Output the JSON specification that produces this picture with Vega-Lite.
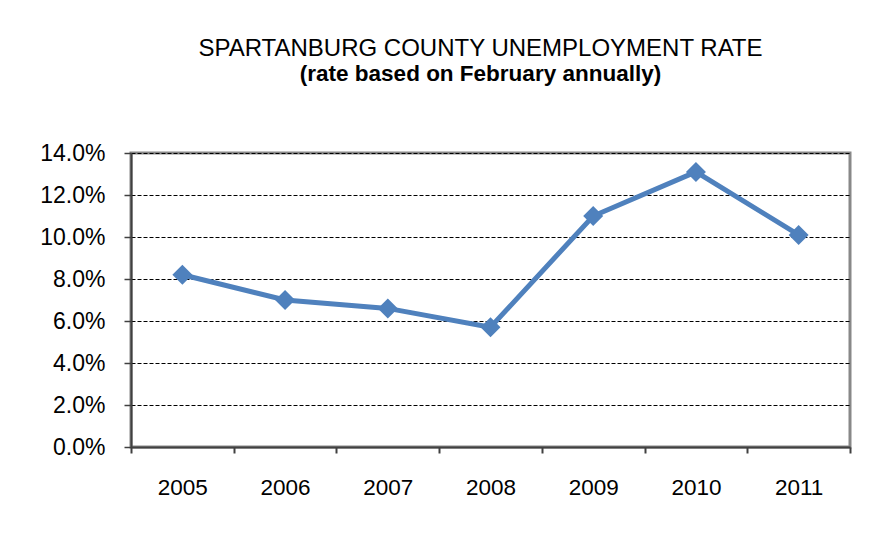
{
  "$schema": "https://vega.github.io/schema/vega-lite/v6.json",
  "width": 719,
  "height": 294,
  "autosize": {"type": "none"},
  "padding": {"left": 131, "top": 153, "right": 22, "bottom": 87},
  "background": "white",
  "title": {
    "text": "SPARTANBURG COUNTY UNEMPLOYMENT RATE",
    "subtitle": "(rate based on February annually)",
    "font": "Liberation Sans",
    "fontSize": 24,
    "fontWeight": "normal",
    "color": "black",
    "subtitleFont": "Liberation Sans",
    "subtitleFontSize": 22.5,
    "subtitleFontWeight": "bold",
    "subtitleColor": "black",
    "subtitlePadding": 2,
    "anchor": "middle",
    "dx": -10,
    "offset": 57
  },
  "data": {
    "values": [
      {"year": "2005", "rate": 0.082},
      {"year": "2006", "rate": 0.070},
      {"year": "2007", "rate": 0.066},
      {"year": "2008", "rate": 0.057},
      {"year": "2009", "rate": 0.110},
      {"year": "2010", "rate": 0.131},
      {"year": "2011", "rate": 0.101}
    ]
  },
  "mark": {
    "type": "line",
    "color": "#4F81BD",
    "strokeWidth": 5,
    "point": {"shape": "diamond", "size": 400, "filled": true, "color": "#4F81BD", "opacity": 1}
  },
  "encoding": {
    "x": {
      "field": "year",
      "type": "ordinal",
      "title": null,
      "scale": {"paddingInner": 0, "paddingOuter": 0},
      "axis": {
        "labelAngle": 0,
        "labelFont": "Liberation Sans",
        "labelFontSize": 22.5,
        "labelColor": "black",
        "labelPadding": 23,
        "tickBand": "extent",
        "tickSize": 6,
        "tickColor": "#404040",
        "tickWidth": 2,
        "domainColor": "#404040",
        "domainWidth": 2,
        "grid": false
      }
    },
    "y": {
      "field": "rate",
      "type": "quantitative",
      "title": null,
      "scale": {"domain": [0, 0.14], "nice": false},
      "axis": {
        "values": [0, 0.02, 0.04, 0.06, 0.08, 0.1, 0.12, 0.14],
        "format": ".1%",
        "labelFont": "Liberation Sans",
        "labelFontSize": 23,
        "labelColor": "black",
        "labelPadding": 19,
        "tickSize": 7,
        "tickColor": "#404040",
        "tickWidth": 1.5,
        "domainColor": "#404040",
        "domainWidth": 2,
        "grid": true,
        "gridColor": "black",
        "gridDash": [4, 2],
        "gridWidth": 1
      }
    }
  },
  "config": {
    "view": {"stroke": "#888888", "strokeWidth": 3}
  }
}
